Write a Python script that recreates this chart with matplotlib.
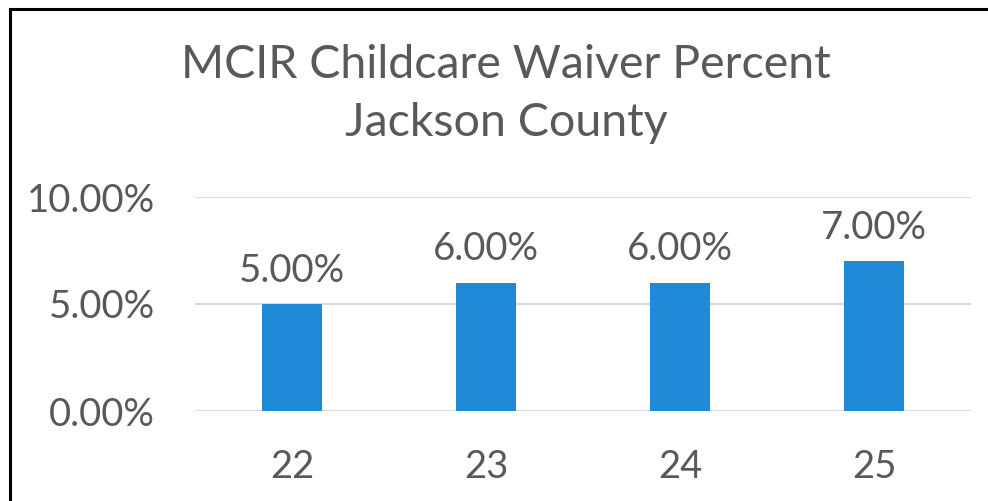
import matplotlib
matplotlib.use("Agg")
import matplotlib.pyplot as plt
from matplotlib.lines import Line2D
from matplotlib.ticker import PercentFormatter

categories = ["22", "23", "24", "25"]
waiver_pct = [5.00, 6.00, 6.00, 7.00]
y_ticks = [0, 5, 10]

plt.rcParams['font.family'] = ['Lato', 'DejaVu Sans']
text_color = "#595959"
bar_color = "#1f8ad8"

fig = plt.figure(figsize=(9.88, 5.01), dpi=100)
ax = fig.add_axes([195 / 988, 1 - 411 / 501, 776 / 988, 214 / 501])

x = range(len(categories))
bars = ax.bar(x, waiver_pct, width=0.31, color=bar_color, zorder=3)
for rect, v in zip(bars, waiver_pct):
    ax.annotate(f"{v:.2f}%", (rect.get_x() + rect.get_width() / 2, v),
                xytext=(0, 11), textcoords="offset points",
                ha="center", va="bottom", fontsize=27.5, color=text_color)

ax.set_xlim(-0.5, len(categories) - 0.5)
ax.set_ylim(0, 10)
ax.set_yticks(y_ticks)
ax.yaxis.set_major_formatter(PercentFormatter(decimals=2))
ax.set_xticks(list(x))
ax.set_xticklabels(categories)
ax.tick_params(axis="both", length=0, labelsize=27.5, labelcolor=text_color)
ax.tick_params(axis="y", pad=29)
ax.tick_params(axis="x", pad=27)
ax.grid(axis="y", color="#d9d9d9", linewidth=1.5, zorder=0)
for s in ax.spines.values():
    s.set_visible(False)

fig.text(506 / 988, 1 - 94 / 501, "MCIR Childcare Waiver Percent\nJackson County",
         ha="center", va="center", fontsize=33.5, color=text_color, linespacing=1.45)

# outer frame (top and left edges visible)
fig.add_artist(Line2D([10 / 988, 1.0], [1 - 9 / 501] * 2, color="black", lw=2.2,
                      transform=fig.transFigure))
fig.add_artist(Line2D([10 / 988] * 2, [0, 1 - 9 / 501], color="black", lw=2.2,
                      transform=fig.transFigure))

fig.savefig("out.png", dpi=100)
